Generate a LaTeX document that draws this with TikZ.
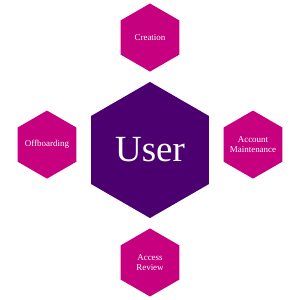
\documentclass[tikz,border=0pt]{standalone}
\usepackage{fontspec}
\setmainfont{Liberation Serif}
\usetikzlibrary{shapes.geometric,positioning}
\definecolor{lila-user}{RGB}{76,0,111}
\definecolor{magenta-pas}{RGB}{198,0,126}

\begin{document}
\begin{tikzpicture}[font=\fontsize{9}{9.5}\selectfont, node distance=3.5mm,
	   hex/.style={regular polygon, regular polygon sides=6, shape border rotate=30,
	     inner sep=-5mm, minimum size=2.4cm, fill=magenta-pas, text=white, align=center}]
	  \useasboundingbox (-5.29,-5.29) rectangle (5.29,5.29);
	  \node[hex, inner sep=0pt, minimum size=4.8cm, fill=lila-user, font=\fontsize{37}{40}\selectfont] (user) {User};
	  \node[hex, above=of user] (crea) {Creation};
	  \node[hex, below=of user] (rev) {Access\\ Review};
	  \node[hex, left=5mm of user, yshift=1.9mm] (off) {Offboarding};
	  \node[hex, right=5mm of user, yshift=1.9mm] (acc) {Account\\ Maintenance};
	\end{tikzpicture}
\end{document}
